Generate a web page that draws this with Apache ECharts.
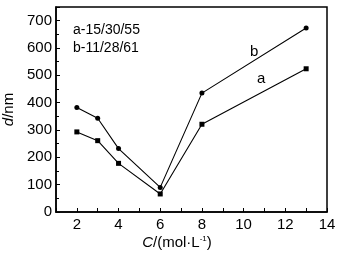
<!DOCTYPE html>
<html><head><meta charset="utf-8">
<script src="https://cdn.jsdelivr.net/npm/echarts@6/dist/echarts.min.js"></script>
<style>html,body{margin:0;padding:0;background:#fff}#c{width:339px;height:257px}</style>
</head><body><div id="c"></div>
<script>
var xVals = [2, 3, 4, 6, 8, 13];
var seriesA = [293, 261, 178, 66, 321, 524];
var seriesB = [382, 343, 232, 90, 435, 673];
var legendLines = ['a-15/30/55', 'b-11/28/61'];
var F = '"Liberation Sans", Arial, sans-serif';
function pairs(v){ return xVals.map(function(x,i){return [x, v[i]];}); }
var chart = echarts.init(document.getElementById('c'));
chart.setOption({
  animation: false,
  grid: {left: 56, top: 7, right: 12, bottom: 45, show: true, borderColor: '#000', borderWidth: 1.5,
         containLabel: false, outerBoundsMode: 'none'},
  xAxis: {
    type: 'value', min: 1, max: 14, interval: 1,
    axisLine: {lineStyle: {color: '#000', width: 1.5}},
    axisTick: {inside: true, length: 4, lineStyle: {color: '#000'}},
    splitLine: {show: false},
    axisLabel: {color: '#000', fontSize: 15, fontFamily: F, margin: 5,
      formatter: function(v){ return v % 2 === 0 ? v : ''; }}
  },
  yAxis: {
    type: 'value', min: 0, max: 750, interval: 100,
    axisLine: {show: true, lineStyle: {color: '#000', width: 1.5}},
    axisTick: {inside: true, length: 4, lineStyle: {color: '#000'}},
    minorTick: {show: true, splitNumber: 2, length: 3, lineStyle: {color: '#000'}},
    splitLine: {show: false},
    axisLabel: {color: '#000', fontSize: 15, fontFamily: F, margin: 4,
      formatter: function(v){ return v % 100 === 0 ? v : ''; }},
    name: '{i|d}{n|/nm}', nameLocation: 'middle', nameGap: 31,
    nameTextStyle: {rich: {
      i: {fontStyle: 'italic', fontSize: 15, fontFamily: F, color: '#000'},
      n: {fontSize: 15, fontFamily: F, color: '#000'}
    }}
  },
  series: [
    {type: 'line', name: 'a', data: pairs(seriesA), symbol: 'rect', symbolSize: 5,
     lineStyle: {color: '#000', width: 1.1}, itemStyle: {color: '#000'}},
    {type: 'line', name: 'b', data: pairs(seriesB), symbol: 'circle', symbolSize: 5,
     lineStyle: {color: '#000', width: 1.1}, itemStyle: {color: '#000'}}
  ],
  graphic: [
    {type: 'text', left: 73, top: 23, style: {text: legendLines[0], font: '14px ' + F, fill: '#000'}},
    {type: 'text', left: 73, top: 41, style: {text: legendLines[1], font: '14px ' + F, fill: '#000'}},
    {type: 'text', left: 250, top: 44, style: {text: 'b', font: '15px ' + F, fill: '#000'}},
    {type: 'text', left: 257, top: 71, style: {text: 'a', font: '15px ' + F, fill: '#000'}},
    {type: 'text', x: 177, y: 243, style: {
      text: '{i|C}{n|/(mol·L}{s|-1}{n|)}', align: 'center', verticalAlign: 'middle',
      rich: {
        i: {fontStyle: 'italic', fontSize: 15, fontFamily: F, fill: '#000'},
        n: {fontSize: 15, fontFamily: F, fill: '#000'},
        s: {fontSize: 8, fontFamily: F, fill: '#000', verticalAlign: 'top', padding: [0,0,8,0]}
      }}}
  ]
});
</script></body></html>
